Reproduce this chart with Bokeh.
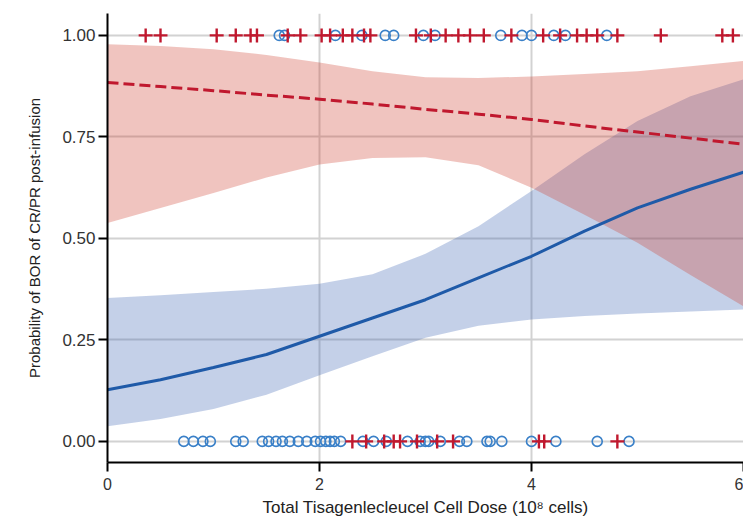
from bokeh.plotting import figure
from bokeh.models import Range1d, FixedTicker, NumeralTickFormatter
from bokeh.embed import file_html
from bokeh.resources import INLINE

# ---- data ----
dose_grid = [0, 0.5, 1, 1.5, 2, 2.5, 3, 3.5, 4, 4.5, 5, 5.5, 6]

blue_fit = [0.127, 0.152, 0.182, 0.214, 0.259, 0.304, 0.349, 0.403, 0.456, 0.518, 0.575, 0.621, 0.663]
blue_lo = [0.037, 0.055, 0.080, 0.115, 0.163, 0.210, 0.255, 0.285, 0.300, 0.309, 0.315, 0.320, 0.325]
blue_hi = [0.353, 0.360, 0.368, 0.376, 0.388, 0.412, 0.462, 0.530, 0.617, 0.707, 0.789, 0.850, 0.892]

red_fit = [0.884, 0.874, 0.864, 0.853, 0.843, 0.831, 0.818, 0.806, 0.793, 0.777, 0.762, 0.747, 0.732]
red_lo = [0.538, 0.575, 0.612, 0.650, 0.682, 0.698, 0.700, 0.680, 0.625, 0.558, 0.489, 0.410, 0.333]
red_hi = [0.978, 0.974, 0.966, 0.952, 0.933, 0.912, 0.897, 0.895, 0.899, 0.905, 0.912, 0.924, 0.937]

red_resp_dose = [0.36, 0.50, 1.03, 1.21, 1.35, 1.41, 1.70, 1.82, 2.02, 2.10, 2.22, 2.31, 2.42, 2.48,
                 2.91, 3.05, 3.19, 3.31, 3.42, 3.55, 3.81, 4.11, 4.27, 4.43, 4.52, 4.62, 4.81,
                 5.22, 5.80, 5.90]
blue_resp_dose = [1.62, 1.67, 2.15, 2.40, 2.62, 2.70, 2.98, 3.09, 3.71, 3.91, 4.00, 4.21, 4.32, 4.71]

red_nonresp_dose = [2.31, 2.44, 2.61, 2.70, 2.76, 2.92, 3.11, 3.26, 4.07, 4.12, 4.81]
blue_nonresp_dose = [0.72, 0.81, 0.90, 0.97, 1.21, 1.28, 1.46, 1.52, 1.59, 1.65, 1.72, 1.80, 1.88,
                     1.96, 2.01, 2.06, 2.10, 2.14, 2.20, 2.41, 2.51, 2.63, 2.83, 2.95, 3.00, 3.03,
                     3.14, 3.32, 3.39, 3.58, 3.61, 3.72, 4.00, 4.23, 4.62, 4.92]

x_ticks = [0, 2, 4, 6]
y_ticks = [0, 0.25, 0.5, 0.75, 1.0]
x_title = "Total Tisagenlecleucel Cell Dose (10\u2078 cells)"
y_title = "Probability of BOR of CR/PR post-infusion"

RED = "#c0182e"
BLUE_LINE = "#1f5aa8"
BLUE_MARK = "#3a80c8"
FONT = "Liberation Sans"

p = figure(width=743, height=520, output_backend="svg", toolbar_location=None,
           x_range=Range1d(0, 6), y_range=Range1d(-0.052, 1.054),
           min_border_left=107, min_border_right=0, min_border_top=13, min_border_bottom=58)
p.outline_line_color = None
p.background_fill_color = "white"

# bands
p.varea(x=dose_grid, y1=blue_lo, y2=blue_hi, fill_color="#3a62b2", fill_alpha=0.3)
p.varea(x=dose_grid, y1=red_lo, y2=red_hi, fill_color="#cd3a2a", fill_alpha=0.3)

# fitted curves
p.line(dose_grid, blue_fit, line_color=BLUE_LINE, line_width=3)
p.line(dose_grid, red_fit, line_color=RED, line_width=3, line_dash="11 5")

# observations
p.scatter(blue_resp_dose, [1.0] * len(blue_resp_dose), marker="circle", size=10,
          fill_color=None, line_color=BLUE_MARK, line_width=1.6)
p.scatter(blue_nonresp_dose, [0.0] * len(blue_nonresp_dose), marker="circle", size=10,
          fill_color=None, line_color=BLUE_MARK, line_width=1.6)
p.scatter(red_resp_dose, [1.0] * len(red_resp_dose), marker="cross", size=14,
          line_color=RED, line_width=2.4)
p.scatter(red_nonresp_dose, [0.0] * len(red_nonresp_dose), marker="cross", size=14,
          line_color=RED, line_width=2.4)

# axes
p.xaxis.ticker = FixedTicker(ticks=x_ticks)
p.yaxis.ticker = FixedTicker(ticks=y_ticks)
p.yaxis.formatter = NumeralTickFormatter(format="0.00")
for ax in (p.xaxis[0], p.yaxis[0]):
    ax.axis_line_color = "black"
    ax.axis_line_width = 2
    ax.major_tick_line_color = "black"
    ax.major_tick_line_width = 2
    ax.major_tick_out = 9
    ax.major_tick_in = 0
    ax.minor_tick_line_color = None
    ax.major_label_text_font = FONT
    ax.major_label_text_color = "#333333"
    ax.axis_label_text_font = FONT
    ax.axis_label_text_font_style = "normal"
    ax.axis_label_text_color = "#222222"

p.xaxis.axis_label = x_title
p.yaxis.axis_label = y_title
p.xaxis.major_label_text_font_size = "16px"
p.yaxis.major_label_text_font_size = "17px"
p.xaxis.axis_label_text_font_size = "17px"
p.yaxis.axis_label_text_font_size = "15px"
p.xaxis.major_label_standoff = 6
p.yaxis.major_label_standoff = 3
p.xaxis.axis_label_standoff = 5
p.yaxis.axis_label_standoff = 16

p.xgrid.grid_line_color = "#d2d2d2"
p.ygrid.grid_line_color = "#d2d2d2"
p.xgrid.grid_line_width = 2
p.ygrid.grid_line_width = 2

open("out.html", "w").write(file_html(p, INLINE))
